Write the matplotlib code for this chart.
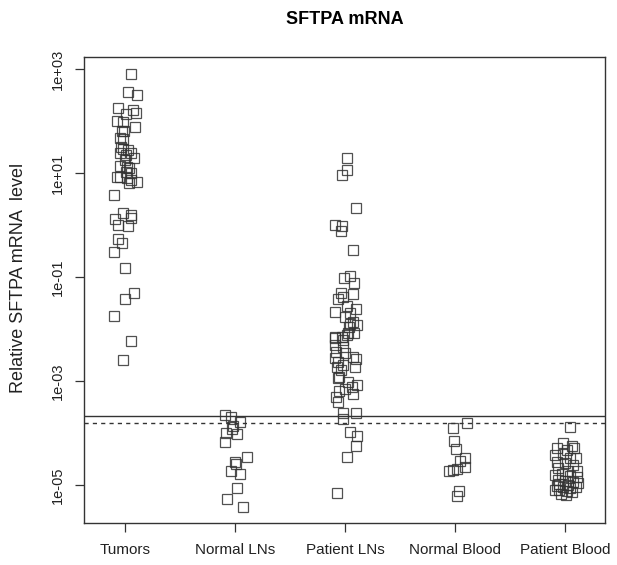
import numpy as np
import matplotlib
matplotlib.use('Agg')
import matplotlib.pyplot as plt

plt.rcParams['font.family'] = ['Liberation Sans', 'DejaVu Sans']

groups = ['Tumors', 'Normal LNs', 'Patient LNs', 'Normal Blood', 'Patient Blood']

# relative SFTPA mRNA level per sample
tumors = [8.0e2, 3.6e2, 3.2e2, 1.78e2, 1.63e2, 1.43e2, 1.36e2, 1.0e2, 96, 77, 64, 64,
          47, 45, 32, 29, 28, 24, 24, 22, 19, 18, 13.6, 13, 12.5, 10.4, 10, 8.4, 8.4,
          8.0, 7.3, 6.7, 6.4, 3.8, 1.7, 1.56, 1.36, 1.30, 1.0, 0.96, 0.54, 0.45, 0.30,
          0.149, 0.049, 0.038, 0.018, 0.0059, 0.0025]
normal_lns = [2.2e-4, 2.0e-4, 1.6e-4, 1.36e-4, 1.2e-4, 1.0e-4, 9.6e-5, 6.7e-5, 3.5e-5,
              2.8e-5, 2.5e-5, 1.9e-5, 1.6e-5, 8.8e-6, 5.4e-6, 3.8e-6]
patient_lns = [19.4, 11.4, 9.2, 2.1, 1.0, 0.96, 0.77, 0.33, 0.105, 0.096, 0.077, 0.049,
               0.047, 0.041, 0.038, 0.028, 0.024, 0.021, 0.020, 0.017, 0.0136, 0.0125,
               0.012, 0.0109, 0.0084, 0.0084, 0.0077, 0.0070, 0.0070, 0.0067, 0.0061,
               0.0049, 0.0045, 0.0036, 0.0035, 0.0029, 0.0028, 0.00265, 0.0023, 0.0020,
               0.00186, 0.00186, 0.00163, 0.00119, 0.00114, 9.6e-4, 8.4e-4, 7.7e-4,
               7.0e-4, 6.4e-4, 5.6e-4, 4.9e-4, 3.9e-4, 2.4e-4, 2.4e-4, 1.9e-4, 1.04e-4,
               8.7e-5, 5.6e-5, 3.5e-5, 7.0e-6]
normal_blood = [1.56e-4, 1.25e-4, 7.0e-5, 4.9e-5, 3.3e-5, 2.9e-5, 2.2e-5, 2.0e-5,
                1.94e-5, 1.86e-5, 7.7e-6, 6.1e-6]
patient_blood = [1.3e-4, 6.4e-5, 5.6e-5, 5.1e-5, 4.7e-5, 5.1e-5, 3.8e-5, 3.9e-5, 3.3e-5,
                 3.3e-5, 2.8e-5, 2.65e-5, 2.4e-5, 2.1e-5, 1.9e-5, 1.9e-5, 1.56e-5,
                 1.63e-5, 1.49e-5, 1.43e-5, 1.25e-5, 1.19e-5, 1.14e-5, 1.09e-5, 9.6e-6,
                 9.2e-6, 8.8e-6, 9.2e-6, 8.0e-6, 7.7e-6, 6.7e-6, 6.4e-6, 8.0e-6, 1.0e-5,
                 1.05e-5, 7.4e-6]

# horizontal jitter of each point around its group
tumors_jit = [0.05, 0.03, 0.11, -0.06, 0.07, 0.10, 0.01, -0.07, -0.02, 0.09, -0.03, -0.01,
              -0.05, -0.02, -0.04, -0.02, 0.03, -0.05, 0.05, 0.01, 0.08, 0.0, -0.05, 0.02,
              0.04, 0.01, 0.05, -0.07, -0.05, 0.02, 0.05, 0.11, 0.04, -0.10, -0.02, 0.05,
              0.05, -0.09, -0.06, 0.03, -0.06, -0.03, -0.10, 0.0, 0.08, 0.0, -0.10, 0.05,
              -0.02]
normal_lns_jit = [-0.09, -0.04, 0.05, -0.02, -0.03, -0.08, 0.02, -0.09, 0.11, 0.0, 0.01,
                  -0.04, 0.05, 0.02, -0.07, 0.07]
patient_lns_jit = [0.02, 0.02, -0.03, 0.10, -0.09, -0.03, -0.04, 0.07, 0.05, -0.01, 0.08,
                   -0.04, 0.07, -0.02, -0.06, 0.02, 0.10, -0.09, 0.05, 0.0, 0.07, 0.05,
                   0.11, 0.04, 0.08, 0.03, 0.02, -0.09, -0.03, -0.09, -0.02, -0.09, -0.02,
                   -0.08, 0.0, 0.07, -0.09, 0.10, -0.06, -0.02, 0.09, -0.07, -0.04, -0.05,
                   -0.06, 0.03, 0.11, 0.06, 0.0, -0.05, 0.07, -0.08, -0.06, -0.02, 0.10,
                   -0.02, 0.05, 0.11, 0.10, 0.02, -0.07]
normal_blood_jit = [0.11, -0.02, -0.01, 0.01, 0.09, 0.05, 0.09, 0.02, -0.02, -0.05, 0.04,
                    0.02]
patient_blood_jit = [0.05, -0.02, 0.06, -0.07, 0.02, 0.08, -0.09, -0.02, 0.05, 0.10, -0.07,
                     0.0, 0.07, -0.06, 0.03, 0.11, -0.09, -0.03, 0.05, 0.11, -0.06, 0.0,
                     0.07, 0.12, -0.07, -0.02, 0.05, 0.10, -0.05, 0.02, -0.04, 0.01, -0.09,
                     0.03, -0.05, 0.06]

# cutoff levels
cutoff_solid = 2.15e-4
cutoff_dashed = 1.58e-4

values = [tumors, normal_lns, patient_lns, normal_blood, patient_blood]
jitters = [tumors_jit, normal_lns_jit, patient_lns_jit, normal_blood_jit, patient_blood_jit]

ink = '#333333'
fig = plt.figure(figsize=(6.17, 5.65), dpi=100)
ax = fig.add_axes([0.1361, 0.0743, 0.8445, 0.8248])

for i, (vals, jit) in enumerate(zip(values, jitters)):
    x = i + 1 + np.array(jit)
    ax.plot(x, vals, 's', mfc='none', mec=ink, ms=6.5, mew=0.9, alpha=0.85)

ax.axhline(cutoff_solid, color=ink, lw=1.0)
ax.axhline(cutoff_dashed, color=ink, lw=1.0, linestyle=(0, (3, 3)))

ax.set_yscale('log')
ax.set_xlim(0.627, 5.364)
ax.set_ylim(10 ** -5.73, 10 ** 3.23)

ax.set_xticks(range(1, 6))
ax.set_xticklabels(groups, fontsize=11)
yt = [1e3, 1e1, 1e-1, 1e-3, 1e-5]
ax.set_yticks(yt)
ax.set_yticklabels(['1e+03', '1e+01', '1e-01', '1e-03', '1e-05'], fontsize=10.5,
                   rotation=90, va='center')
ax.yaxis.set_minor_locator(matplotlib.ticker.NullLocator())
ax.tick_params(length=6.5, width=0.9, color=ink, colors='#222222')
ax.tick_params(axis='x', pad=8)
ax.tick_params(axis='y', pad=7)
for s in ax.spines.values():
    s.set_color(ink)
    s.set_linewidth(1.0)

ax.set_title('SFTPA mRNA', fontsize=13, fontweight='bold', pad=24)
fig.text(19 / 617, 1 - 278 / 565, 'Relative SFTPA mRNA  level',
         rotation=90, ha='center', va='center', fontsize=13, color='#222222')

fig.savefig('out.png', dpi=100)
